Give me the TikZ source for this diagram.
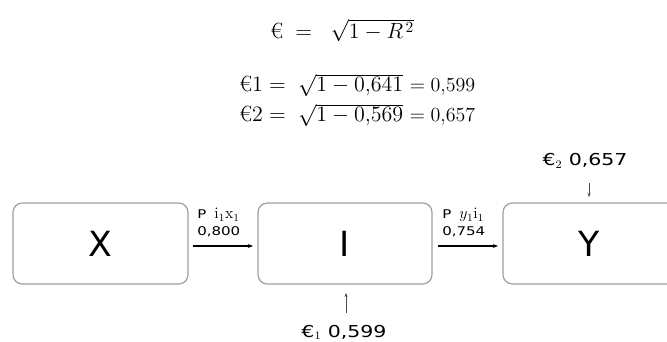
\RequirePackage{fix-cm}
\documentclass[tikz,border=0pt]{standalone}
\usepackage{amsmath}
\usepackage{fontspec}
\newfontfamily\labfont{DejaVu Sans}
\newfontfamily\widefont[FakeStretch=1.25]{DejaVu Sans}
\usetikzlibrary{arrows.meta}
\newcommand{\coefmath}[1]{{\fontsize{12}{14}\selectfont$#1$}}
\tikzset{
  varbox/.style={draw=gray!75, line width=0.9pt, rounded corners=7pt, fill=white},
  varlabel/.style={font=\labfont\fontsize{26}{30}\selectfont},
  pathline/.style={-{Stealth[length=4pt,width=3pt]}, line width=0.8pt},
  errarrow/.style={-{Stealth[length=3pt,width=2.4pt]}, line width=0.4pt, draw=black!70},
  coef/.style={font=\widefont\fontsize{9}{11}\selectfont, anchor=base west, inner sep=0pt},
  errlab/.style={font=\widefont\fontsize{12.3}{14}\selectfont, anchor=base, inner sep=0pt},
  eqn/.style={font=\fontsize{16.5}{20}\selectfont, anchor=base west, inner sep=0pt}
}
\begin{document}
\begin{tikzpicture}[x=0.75pt,y=-0.75pt]
\useasboundingbox (0,0) rectangle (667,342);
\clip (0,0) rectangle (667,342);
% equations
\node[eqn] (eq0) at (270,39) {$\text{€}\; = \;\;\sqrt{1-R^{\,2}}$};
\node[eqn] (eq1) at (239,92) {$\text{€}1 = \;\sqrt{1-0{,}641}$ {\fontsize{15}{18}\selectfont$= 0{,}599$}};
\node[eqn] (eq2) at (239,122) {$\text{€}2 = \;\sqrt{1-0{,}569}$ {\fontsize{15}{18}\selectfont$= 0{,}657$}};
% boxes
\draw[varbox] (13,203) rectangle (188,284);
\node[varlabel] (X) at (100.5,243.5) {X};
\coordinate (Xr) at (193,246);
\draw[varbox] (258,203) rectangle (432,284);
\node[varlabel] (I) at (345,243.5) {I};
\coordinate (Il) at (253,246);
\coordinate (Ir) at (438,246);
\coordinate (Ib) at (346,293);
\draw[varbox] (503,203) rectangle (680,284);
\node[varlabel] (Y) at (589,243.5) {Y};
\coordinate (Yl) at (498,246);
\coordinate (Yt) at (589,197);
% paths
\draw[pathline] (Xr) -- (Il);
\node[coef] (c1a) at (197,219) {P\; \coefmath{\mathrm{i}_1\mathrm{x}_1}};
\node[coef] (c1b) at (197,235) {0,800};
\draw[pathline] (Ir) -- (Yl);
\node[coef] (c2a) at (442,219) {P\; \coefmath{y_1\mathrm{i}_1}};
\node[coef] (c2b) at (442,235) {0,754};
% errors
\node[errlab] (e2) at (585,166) {€$_2$ 0,657};
\coordinate (e2b) at (589,183);
\draw[errarrow] (e2b) -- (Yt);
\node[errlab] (e1) at (344,337) {€$_1$ 0,599};
\coordinate (e1t) at (346,313);
\draw[errarrow] (e1t) -- (Ib);
\end{tikzpicture}
\end{document}
